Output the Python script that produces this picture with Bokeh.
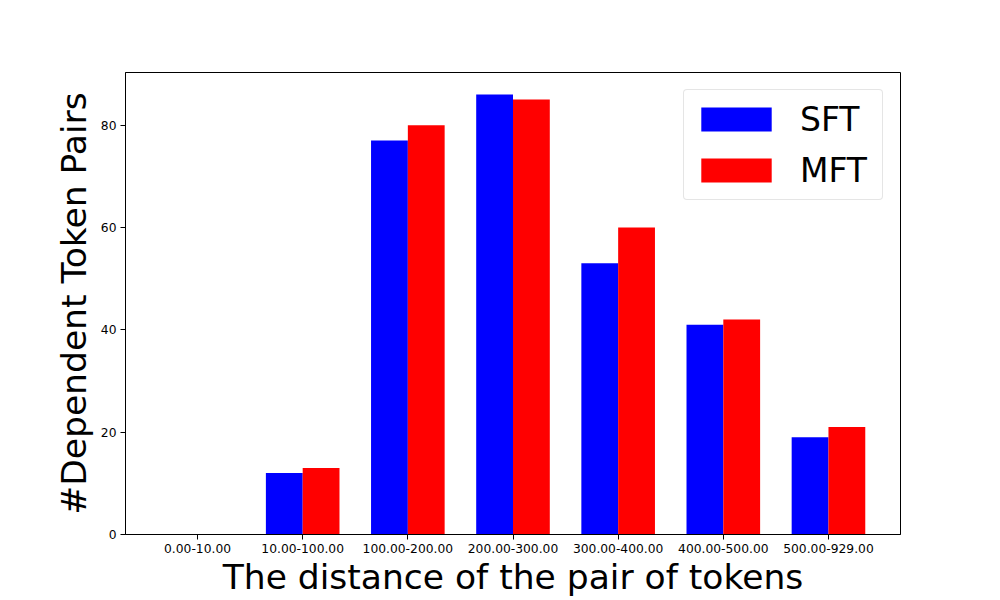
from bokeh.plotting import figure
from bokeh.models import FixedTicker, Range1d, Legend, LegendItem, ColumnDataSource
from bokeh.embed import file_html
from bokeh.resources import INLINE
from bokeh.transform import dodge

categories = ["0.00-10.00", "10.00-100.00", "100.00-200.00", "200.00-300.00",
              "300.00-400.00", "400.00-500.00", "500.00-929.00"]
sft = [0, 12, 77, 86, 53, 41, 19]
mft = [0, 13, 80, 85, 60, 42, 21]
y_ticks = [0, 20, 40, 60, 80]

x = list(range(len(categories)))
src = ColumnDataSource(dict(x=x, sft=sft, mft=mft))

FONT = "DejaVu Sans"
p = figure(width=1000, height=600, output_backend="svg", toolbar_location=None,
           x_range=Range1d(-0.685, 6.685), y_range=Range1d(0, 90.3),
           min_border_left=125, min_border_right=100, min_border_top=72, min_border_bottom=66)
p.background_fill_color = "white"
p.border_fill_color = "white"
p.outline_line_color = "black"
p.outline_line_width = 1
p.xgrid.visible = False
p.ygrid.visible = False

r1 = p.vbar(x=dodge('x', -0.175, range=p.x_range), top='sft', width=0.35, source=src,
            fill_color='#0000ff', line_color=None)
r2 = p.vbar(x=dodge('x', 0.175, range=p.x_range), top='mft', width=0.35, source=src,
            fill_color='#ff0000', line_color=None)

p.xaxis.ticker = FixedTicker(ticks=x)
p.xaxis.major_label_overrides = {i: c for i, c in zip(x, categories)}
p.yaxis.ticker = FixedTicker(ticks=y_ticks)

for ax in (p.xaxis[0], p.yaxis[0]):
    ax.major_tick_out = 5
    ax.major_tick_in = 0
    ax.minor_tick_line_color = None
    ax.axis_line_color = "black"
    ax.major_tick_line_color = "black"
    ax.major_label_text_font = FONT
    ax.major_label_text_font_size = "12.3px"
    ax.major_label_text_color = "black"
    ax.axis_label_text_font = FONT
    ax.axis_label_text_font_size = "34.5px"
    ax.axis_label_text_font_style = "normal"
    ax.axis_label_text_color = "black"
    ax.major_label_standoff = 4

p.xaxis.axis_label = "The distance of the pair of tokens"
p.yaxis.axis_label = "#Dependent Token Pairs"
p.xaxis.axis_label_standoff = 1
p.yaxis.axis_label_standoff = 4

legend = Legend(items=[LegendItem(label="SFT", renderers=[r1]),
                       LegendItem(label="MFT", renderers=[r2])],
                location="top_right")
legend.margin = 17
legend.padding = 8
legend.label_standoff = 20
legend.glyph_width = 88
legend.glyph_height = 30
legend.label_width = 74
legend.label_height = 42
legend.spacing = 9
legend.label_text_font = FONT
legend.label_text_font_size = "33px"
legend.label_text_color = "black"
legend.border_line_color = "#cccccc"
legend.border_line_width = 1
legend.background_fill_alpha = 0.8
if "border_radius" in Legend.properties():
    legend.border_radius = 4
p.add_layout(legend)

open("out.html", "w").write(file_html(p, INLINE))
